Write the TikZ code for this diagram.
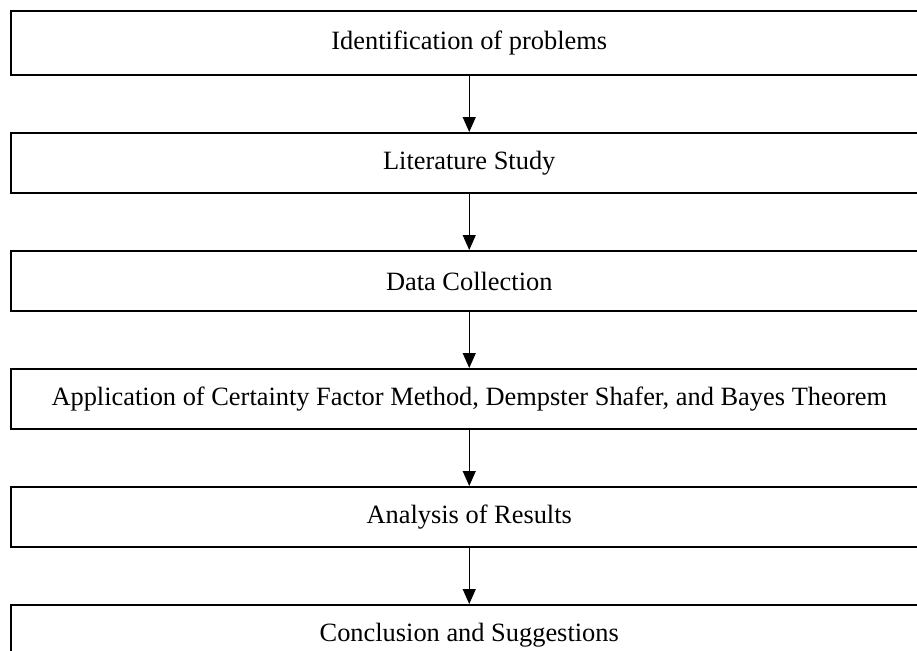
\documentclass[tikz,border=0pt]{standalone}
\usepackage{fontspec}
\setmainfont{Liberation Serif}
\usetikzlibrary{positioning,arrows.meta}

\begin{document}
\begin{tikzpicture}[
    stepbox/.style={draw,line width=1pt,minimum width=458.75pt,minimum height=30pt,
        inner sep=0pt,font=\fontsize{13.2}{15}\selectfont},
    flow/.style={line width=0.5pt,-{Triangle[length=7.5pt,width=6.5pt]}},
    node distance=28pt]

\clip (0,0) rectangle (458.5pt,-325pt);

\node[stepbox,minimum height=32pt] (ident) at (234.625pt,-21.5pt) {Identification of problems};
\node[stepbox,below=of ident] (lit) {Literature Study};
\node[stepbox,below=of lit] (data) {Data Collection};
\node[stepbox,below=of data] (apply) {Application of Certainty Factor Method, Dempster Shafer, and Bayes Theorem};
\node[stepbox,below=of apply] (analysis) {Analysis of Results};
\node[stepbox,below=of analysis] (concl) {Conclusion and Suggestions};

\foreach \a/\b in {ident/lit,lit/data,data/apply,apply/analysis,analysis/concl}
  \draw[flow] (\a) -- (\b);
\end{tikzpicture}
\end{document}
